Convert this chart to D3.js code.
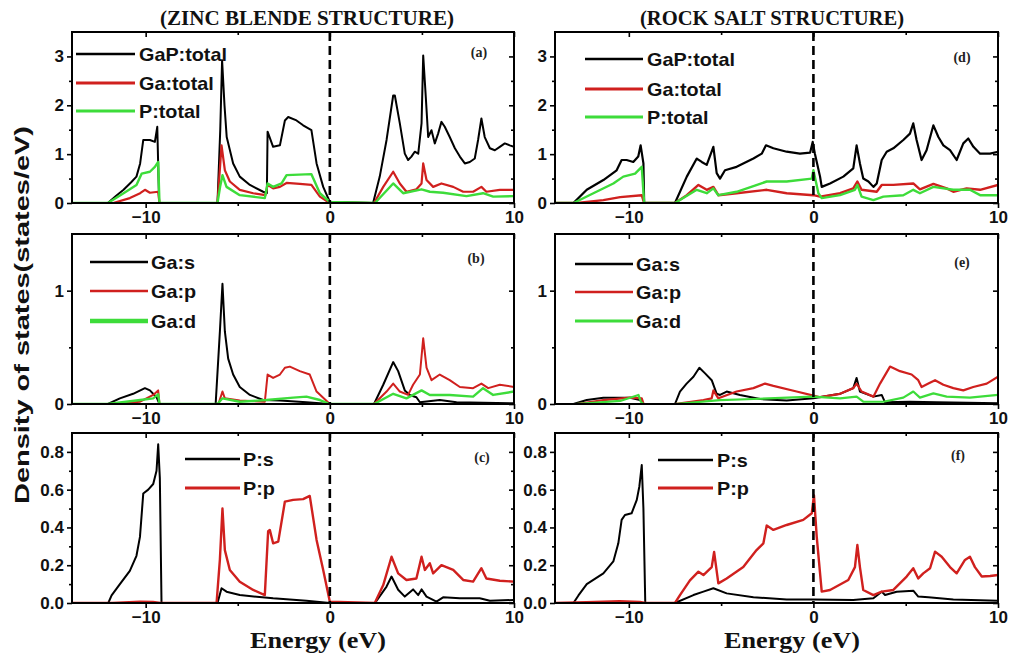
<!DOCTYPE html>
<html><head><meta charset="utf-8">
<script src="https://cdn.jsdelivr.net/npm/d3@7"></script>
<style>
body{margin:0;background:#fff;}
svg{display:block;}
.sans{font-family:"Liberation Sans","Arimo",Arial,Helvetica,sans-serif;font-weight:bold;}
.serif{font-family:"Liberation Serif","Tinos","Times New Roman",Times,serif;font-weight:bold;}
</style></head><body>
<svg id="chart" width="1011" height="657"></svg>
<script>
// ---------- DATA (energy eV, DOS states/eV) ----------
const energyDomain = [-14, 10];
const xMajorTicks = [-10, 0, 10];
const xMinorTicks = [-5, 5];
const titles = ["(ZINC BLENDE STRUCTURE)", "(ROCK SALT STRUCTURE)"];
const panelLabels = ["(a)", "(b)", "(c)", "(d)", "(e)", "(f)"];
const legendTotals = ["GaP:total", "Ga:total", "P:total"];
const legendGa = ["Ga:s", "Ga:p", "Ga:d"];
const legendP = ["P:s", "P:p"];
const yTicksTotal = [0, 1, 2, 3];
const yTicksGa = [0, 1];
const yTicksP = [0, 0.2, 0.4, 0.6, 0.8];

// Zinc blende: totals (a)
const zbGaPTotal = [[-14,0],[-12.05,0],[-11.6,0.15],[-11.2,0.27],[-10.8,0.42],[-10.5,0.54],[-10.3,0.81],[-10.13,1.29],[-9.77,1.29],[-9.5,1.25],[-9.37,1.56],[-9.27,0],
[-6.1,0],[-5.95,1.5],[-5.85,2.92],[-5.72,2.0],[-5.6,1.35],[-5.25,0.81],[-4.89,0.54],[-4.34,0.37],[-3.62,0.23],[-3.42,0.2],[-3.38,1.46],[-3.08,1.15],[-2.71,1.18],[-2.44,1.69],[-2.26,1.76],[-1.81,1.69],[-1.45,1.59],[-1.0,1.49],[-0.72,0.81],[-0.36,0.33],[0,0.02],
[2.35,0],[2.71,0.54],[3.08,1.29],[3.44,2.2],[3.53,2.2],[3.8,1.63],[4.07,1.01],[4.25,0.88],[4.43,0.95],[4.61,1.05],[4.8,1.01],[4.98,1.63],[5.07,3.02],[5.21,2.17],[5.34,1.35],[5.52,1.49],[5.7,1.22],[5.88,1.42],[6.06,1.66],[6.24,1.56],[6.51,1.35],[6.79,1.12],[7.06,0.95],[7.33,0.81],[7.6,0.84],[7.87,0.91],[8.05,1.29],[8.23,1.73],[8.41,1.35],[8.69,1.12],[8.96,1.08],[9.23,1.15],[9.5,1.22],[9.77,1.18],[10,1.15]];
const zbGaTotal = [[-14,0],[-11.76,0],[-10.86,0.1],[-10.3,0.2],[-10.04,0.27],[-9.77,0.21],[-9.32,0.23],[-9.25,0],
[-6.1,0],[-5.95,0.8],[-5.88,1.18],[-5.7,0.67],[-5.43,0.44],[-4.89,0.27],[-4.16,0.2],[-3.5,0.16],[-3.38,0.37],[-3.08,0.3],[-2.71,0.33],[-2.35,0.41],[-1.63,0.39],[-1.0,0.37],[-0.54,0.13],[-0.05,0.01],
[2.4,0],[2.9,0.33],[3.44,0.64],[3.8,0.4],[4.16,0.23],[4.7,0.28],[4.98,0.4],[5.07,0.81],[5.25,0.47],[5.61,0.33],[6.06,0.4],[6.7,0.33],[7.24,0.23],[7.78,0.23],[8.23,0.33],[8.5,0.23],[9.23,0.27],[10,0.27]];
const zbPTotal = [[-14,0],[-12.05,0],[-11.2,0.2],[-10.5,0.37],[-10.22,0.6],[-9.77,0.64],[-9.5,0.74],[-9.32,0.84],[-9.25,0],
[-6.1,0],[-5.95,0.35],[-5.83,0.57],[-5.61,0.33],[-4.89,0.16],[-3.53,0.1],[-3.38,0.4],[-3.08,0.33],[-2.62,0.4],[-2.35,0.57],[-1.0,0.59],[-0.54,0.2],[0,0.02],
[2.45,0],[3.44,0.4],[3.98,0.2],[4.98,0.28],[5.43,0.23],[6.15,0.21],[7.42,0.14],[8.32,0.2],[8.87,0.13],[10,0.14]];

// Zinc blende: Ga orbitals (b)
const zbGaS = [[-14,0],[-12.05,0],[-11.4,0.05],[-10.68,0.09],[-10.04,0.14],[-9.77,0.12],[-9.41,0.06],[-9.25,0],
[-6.2,0],[-5.97,0.64],[-5.83,1.06],[-5.7,0.64],[-5.52,0.4],[-5.25,0.26],[-4.89,0.15],[-4.34,0.08],[-3.62,0.035],[-2.71,0.03],[-1.27,0.015],[0,0],
[2.4,0],[2.9,0.17],[3.44,0.37],[3.71,0.29],[4.07,0.12],[4.34,0.08],[4.7,0.06],[4.89,0.015],[5.97,0.035],[6.88,0.015],[10,0.006]];
const zbGaP = [[-14,0],[-11.76,0],[-10.3,0.02],[-9.59,0.08],[-9.32,0.12],[-9.25,0],
[-6.05,0],[-5.83,0.11],[-5.7,0.05],[-4.89,0.03],[-3.53,0.02],[-3.38,0.26],[-3.08,0.23],[-2.71,0.26],[-2.44,0.32],[-2.17,0.33],[-1.63,0.29],[-1.09,0.26],[-0.72,0.11],[0,0],
[2.4,0],[3.08,0.11],[3.44,0.18],[3.8,0.11],[4.25,0.08],[4.52,0.17],[4.89,0.26],[5.07,0.58],[5.25,0.32],[5.52,0.21],[5.97,0.26],[6.51,0.21],[7.06,0.15],[7.78,0.14],[8.23,0.18],[8.6,0.14],[9.23,0.17],[10,0.15]];
const zbGaD = [[-14,0],[-12.05,0],[-10.3,0.035],[-9.59,0.05],[-9.32,0.085],[-9.25,0],
[-6.1,0],[-5.83,0.05],[-4.89,0.02],[-3.44,0.035],[-1.99,0.056],[-1.27,0.065],[-0.54,0.035],[0,0],
[2.4,0],[3.44,0.09],[4.16,0.05],[4.98,0.12],[5.43,0.08],[6.51,0.08],[7.78,0.065],[8.32,0.14],[8.87,0.08],[10,0.11]];

// Zinc blende: P orbitals (c)
const zbPS = [[-14,0],[-12.03,0],[-11.85,0.04],[-11.4,0.1],[-10.86,0.17],[-10.5,0.25],[-10.31,0.35],[-10.13,0.58],[-9.86,0.6],[-9.59,0.63],[-9.41,0.7],[-9.32,0.84],[-9.23,0.66],[-9.14,0],
[-6.1,0],[-5.88,0.078],[-5.61,0.06],[-4.89,0.042],[-3.08,0.025],[-1.27,0.012],[0,0],
[2.45,0],[3.08,0.087],[3.35,0.14],[3.71,0.07],[4.07,0.034],[4.52,0.072],[4.8,0.042],[4.98,0.072],[5.25,0.034],[5.79,0.007],[6.15,0.03],[7.06,0.025],[8.14,0.025],[8.69,0.012],[10,0.016]];
const zbPP = [[-14,0],[-11.8,0],[-10.3,0.007],[-9.6,0.005],[-9.2,0],
[-6.15,0],[-5.97,0.23],[-5.83,0.5],[-5.7,0.28],[-5.43,0.175],[-4.89,0.113],[-4.16,0.069],[-3.53,0.042],[-3.35,0.38],[-3.26,0.387],[-3.08,0.316],[-2.8,0.325],[-2.44,0.537],[-1.99,0.546],[-1.45,0.55],[-1.09,0.567],[-0.72,0.334],[-0.36,0.175],[0,0.007],
[2.44,0],[2.9,0.095],[3.35,0.245],[3.71,0.157],[4.16,0.122],[4.7,0.13],[4.98,0.245],[5.16,0.175],[5.43,0.21],[5.61,0.157],[6.06,0.2],[6.7,0.175],[7.24,0.122],[7.78,0.113],[8.23,0.184],[8.5,0.13],[9.23,0.118],[10,0.113]];

// Rock salt: totals (d)
const rsGaPTotal = [[-14,0],[-13.0,0],[-12.28,0.27],[-11.38,0.47],[-10.66,0.67],[-10.39,0.88],[-10.12,0.88],[-9.76,0.84],[-9.49,0.95],[-9.36,1.18],[-9.21,0.81],[-9.17,0],
[-7.5,0],[-6.86,0.54],[-6.32,0.91],[-6.05,0.84],[-5.78,0.78],[-5.42,1.15],[-5.24,0.61],[-5.06,0.5],[-4.79,0.67],[-4.16,0.74],[-3.25,0.91],[-2.8,1.01],[-2.57,1.18],[-2.17,1.12],[-1.45,1.05],[-0.73,1.01],[-0.18,1.03],[-0.04,1.25],[0.08,1.01],[0.36,0.54],[0.45,0.33],[0.9,0.4],[1.62,0.54],[2.16,0.71],[2.34,1.18],[2.52,0.81],[2.7,0.5],[2.98,0.44],[3.25,0.33],[3.43,0.4],[3.7,0.88],[3.97,1.05],[4.33,1.12],[4.87,1.29],[5.23,1.42],[5.41,1.63],[5.59,1.29],[5.86,0.88],[6.13,1.08],[6.5,1.59],[6.77,1.35],[7.04,1.18],[7.4,1.08],[7.76,0.88],[8.12,1.22],[8.39,1.32],[8.67,1.15],[9.03,1.01],[9.57,1.01],[10,1.05]];
const rsGaTotal = [[-14,0],[-12.8,0],[-11.38,0.06],[-10.47,0.12],[-9.3,0.16],[-9.17,0],
[-7.5,0],[-6.86,0.16],[-6.23,0.37],[-5.78,0.27],[-5.42,0.33],[-5.15,0.16],[-4.16,0.2],[-2.53,0.27],[-1.45,0.2],[0,0.16],[0.36,0.13],[1.44,0.2],[2.16,0.3],[2.38,0.44],[2.61,0.27],[3.43,0.23],[3.7,0.37],[4.33,0.37],[5.41,0.4],[5.77,0.28],[6.5,0.39],[7.22,0.3],[7.58,0.23],[8.3,0.3],[9.03,0.27],[10,0.37]];
const rsPTotal = [[-14,0],[-13.0,0],[-11.92,0.2],[-10.84,0.4],[-10.3,0.54],[-9.66,0.6],[-9.3,0.74],[-9.17,0],
[-7.5,0],[-6.32,0.27],[-5.78,0.2],[-5.42,0.3],[-5.15,0.16],[-4.16,0.23],[-2.53,0.44],[-1.45,0.44],[-0.09,0.5],[0,0.67],[0.27,0.2],[0.45,0.1],[1.44,0.16],[2.25,0.27],[2.38,0.37],[2.61,0.13],[3.25,0.06],[3.79,0.13],[4.87,0.16],[5.41,0.27],[5.77,0.2],[6.5,0.33],[7.58,0.27],[8.48,0.27],[9.03,0.16],[10,0.16]];

// Rock salt: Ga orbitals (e)
const rsGaS = [[-14,0],[-13.0,0],[-12.28,0.035],[-11.38,0.056],[-9.93,0.056],[-9.39,0.035],[-9.2,0],
[-7.5,0],[-7.23,0.11],[-6.87,0.18],[-6.5,0.24],[-6.18,0.32],[-5.87,0.27],[-5.51,0.21],[-5.24,0.09],[-5.06,0.08],[-4.7,0.11],[-3.98,0.08],[-2.89,0.044],[-1.45,0.03],[0,0.05],[1.44,0.09],[2.16,0.14],[2.34,0.23],[2.52,0.11],[3.25,0.065],[3.7,0.08],[3.88,0.015],[5.23,0.02],[6.68,0.015],[10,0.006]];
const rsGaP = [[-14,0],[-12.8,0],[-11.38,0.035],[-9.93,0.056],[-9.3,0.05],[-9.2,0],
[-7.5,0],[-5.96,0.035],[-5.51,0.05],[-5.42,0.12],[-5.15,0.05],[-4.16,0.11],[-3.25,0.14],[-2.62,0.18],[-2.17,0.16],[-0.91,0.11],[0,0.074],[0.36,0.06],[1.44,0.09],[2.16,0.14],[2.34,0.18],[2.61,0.11],[3.25,0.065],[3.61,0.18],[4.15,0.33],[4.69,0.29],[5.32,0.26],[5.68,0.21],[5.86,0.15],[6.23,0.18],[6.59,0.21],[7.04,0.17],[7.58,0.14],[8.12,0.12],[8.66,0.15],[9.39,0.18],[10,0.24]];
const rsGaD = [[-14,0],[-12.9,0],[-10.47,0.027],[-9.48,0.08],[-9.35,0.02],[-9.2,0],
[-7.5,0],[-5.06,0.035],[-3.25,0.044],[0,0.065],[1.44,0.05],[2.34,0.065],[2.7,0.02],[3.79,0.02],[4.87,0.056],[5.41,0.11],[5.77,0.056],[6.5,0.094],[7.22,0.065],[8.48,0.056],[10,0.08]];

// Rock salt: P orbitals (f)
const rsPS = [[-14,0],[-13.0,0],[-12.73,0.04],[-12.28,0.1],[-11.38,0.157],[-10.84,0.22],[-10.57,0.316],[-10.39,0.44],[-10.21,0.466],[-9.85,0.475],[-9.57,0.546],[-9.43,0.617],[-9.3,0.73],[-9.21,0.5],[-9.11,0],
[-7.5,0],[-6.5,0.042],[-5.96,0.06],[-5.42,0.078],[-4.7,0.051],[-3.25,0.03],[-1.45,0.019],[0,0.019],[2.16,0.016],[3.25,0.025],[3.7,0.06],[3.88,0.042],[4.51,0.06],[5.41,0.065],[5.68,0.034],[6.23,0.03],[7.58,0.019],[10,0.012]];
const rsPP = [[-14,0],[-12.3,0.004],[-10.5,0.01],[-9.4,0.005],[-9.1,0],
[-7.5,0],[-7.23,0.042],[-6.69,0.12],[-6.23,0.166],[-5.96,0.148],[-5.51,0.19],[-5.38,0.27],[-5.15,0.104],[-4.7,0.13],[-3.8,0.19],[-3.08,0.28],[-2.71,0.316],[-2.53,0.41],[-2.17,0.387],[-1.45,0.413],[-0.55,0.44],[-0.09,0.475],[0.03,0.57],[0.18,0.35],[0.45,0.06],[0.9,0.069],[1.89,0.122],[2.25,0.19],[2.38,0.307],[2.52,0.19],[2.7,0.069],[3.25,0.042],[3.7,0.06],[4.33,0.069],[5.05,0.14],[5.41,0.184],[5.68,0.13],[5.95,0.157],[6.32,0.184],[6.59,0.272],[6.95,0.245],[7.4,0.19],[7.76,0.157],[8.21,0.228],[8.48,0.245],[8.75,0.19],[9.12,0.14],[9.57,0.143],[10,0.148]];

// ---------- DRAWING ----------
const BLACK = "#000000", RED = "#d0201e", GREEN = "#3ddc3a";
const svg = d3.select("#chart");

const cols = [{x0: 72, w: 442}, {x0: 555, w: 443}];
const rows = [{y0: 32, h: 171, dom: [0, 3.5], major: yTicksTotal, minor: [0.5, 1.5, 2.5], fmt: d3.format("d")},
              {y0: 234, h: 170, dom: [0, 1.5], major: yTicksGa, minor: [0.5], fmt: d3.format("d")},
              {y0: 433, h: 170, dom: [0, 0.9], major: yTicksP, minor: [0.1, 0.3, 0.5, 0.7], fmt: d3.format(".1f")}];

const panels = [
  {c: 0, r: 0, label: panelLabels[0], lab: [479, 57], series: [[zbGaPTotal, BLACK, 2], [zbGaTotal, RED, 2.2], [zbPTotal, GREEN, 2.4]],
   legend: {names: legendTotals, x1: 76, x2: 135, tx: 139, ys: [54, 83, 111], colors: [BLACK, RED, GREEN], widths: [2.5, 3, 3]}},
  {c: 0, r: 1, label: panelLabels[1], lab: [476, 263], series: [[zbGaS, BLACK, 2], [zbGaP, RED, 2], [zbGaD, GREEN, 2.4]],
   legend: {names: legendGa, x1: 90, x2: 148, tx: 151, ys: [262, 291, 321], colors: [BLACK, RED, GREEN], widths: [2.5, 2.5, 4.5]}},
  {c: 0, r: 2, label: panelLabels[2], lab: [482, 462], series: [[zbPS, BLACK, 2], [zbPP, RED, 2.4]],
   legend: {names: legendP, x1: 185, x2: 240, tx: 243, ys: [459, 488], colors: [BLACK, RED], widths: [2.5, 3]}},
  {c: 1, r: 0, label: panelLabels[3], lab: [962, 62], series: [[rsGaPTotal, BLACK, 2.2], [rsGaTotal, RED, 2.4], [rsPTotal, GREEN, 2.4]],
   legend: {names: legendTotals, x1: 585, x2: 643, tx: 647, ys: [59, 89, 117], colors: [BLACK, RED, GREEN], widths: [2.5, 3, 3]}},
  {c: 1, r: 1, label: panelLabels[4], lab: [962, 267], series: [[rsGaS, BLACK, 2], [rsGaP, RED, 2.2], [rsGaD, GREEN, 2.2]],
   legend: {names: legendGa, x1: 575, x2: 633, tx: 636, ys: [264, 292, 321], colors: [BLACK, RED, GREEN], widths: [2.5, 2.5, 3]}},
  {c: 1, r: 2, label: panelLabels[5], lab: [958, 460], series: [[rsPS, BLACK, 2], [rsPP, RED, 2.4]],
   legend: {names: legendP, x1: 658, x2: 713, tx: 717, ys: [460, 488], colors: [BLACK, RED], widths: [2.5, 3]}}
];

function styleAxis(g) {
  g.select(".domain").remove();
  g.selectAll(".tick line").attr("stroke", "#000").attr("stroke-width", 1.6);
  g.selectAll(".tick text").attr("class", "sans").attr("font-family", null)
    .style("font-size", "17px").attr("fill", "#111");
}

panels.forEach((p, i) => {
  const col = cols[p.c], row = rows[p.r];
  const x = d3.scaleLinear().domain(energyDomain).range([col.x0, col.x0 + col.w]);
  const y = d3.scaleLinear().domain(row.dom).range([row.y0 + row.h, row.y0]);
  const g = svg.append("g");

  const clipId = "clip" + i;
  svg.append("clipPath").attr("id", clipId).append("rect")
    .attr("x", col.x0).attr("y", row.y0 - 2).attr("width", col.w).attr("height", row.h + 2);

  const line = d3.line().x(d => x(d[0])).y(d => y(d[1]));
  const cg = g.append("g").attr("clip-path", `url(#${clipId})`);
  p.series.forEach(([data, color, w]) => {
    cg.append("path").datum(data).attr("d", line).attr("fill", "none")
      .attr("stroke", color).attr("stroke-width", w).attr("stroke-linejoin", "round");
  });

  g.append("line").attr("x1", x(0)).attr("x2", x(0)).attr("y1", row.y0).attr("y2", row.y0 + row.h)
    .attr("stroke", "#000").attr("stroke-width", 2.6).attr("stroke-dasharray", "9,5");

  const bottom = g.append("g").attr("transform", `translate(0,${row.y0 + row.h})`)
    .call(d3.axisBottom(x).tickValues(xMajorTicks).tickSize(5).tickPadding(3).tickFormat(d3.format("d")));
  styleAxis(bottom);
  const bottomMinor = g.append("g").attr("transform", `translate(0,${row.y0 + row.h})`)
    .call(d3.axisBottom(x).tickValues(xMinorTicks).tickSize(3).tickFormat(""));
  styleAxis(bottomMinor);
  const top = g.append("g").attr("transform", `translate(0,${row.y0})`)
    .call(d3.axisTop(x).tickValues(xMajorTicks).tickSize(-5).tickFormat(""));
  styleAxis(top);
  const topMinor = g.append("g").attr("transform", `translate(0,${row.y0})`)
    .call(d3.axisTop(x).tickValues(xMinorTicks).tickSize(-3).tickFormat(""));
  styleAxis(topMinor);

  const left = g.append("g").attr("transform", `translate(${col.x0},0)`)
    .call(d3.axisLeft(y).tickValues(row.major).tickSize(5).tickPadding(3).tickFormat(row.fmt));
  styleAxis(left);
  const leftMinor = g.append("g").attr("transform", `translate(${col.x0},0)`)
    .call(d3.axisLeft(y).tickValues(row.minor).tickSize(3).tickFormat(""));
  styleAxis(leftMinor);
  const right = g.append("g").attr("transform", `translate(${col.x0 + col.w},0)`)
    .call(d3.axisRight(y).tickValues(row.major).tickSize(-5).tickFormat(""));
  styleAxis(right);
  const rightMinor = g.append("g").attr("transform", `translate(${col.x0 + col.w},0)`)
    .call(d3.axisRight(y).tickValues(row.minor).tickSize(-3).tickFormat(""));
  styleAxis(rightMinor);

  g.append("rect").attr("x", col.x0).attr("y", row.y0).attr("width", col.w).attr("height", row.h)
    .attr("fill", "none").attr("stroke", "#000").attr("stroke-width", 2);

  const L = p.legend;
  L.names.forEach((name, k) => {
    g.append("line").attr("x1", L.x1).attr("x2", L.x2).attr("y1", L.ys[k]).attr("y2", L.ys[k])
      .attr("stroke", L.colors[k]).attr("stroke-width", L.widths[k]);
    g.append("text").attr("class", "sans").attr("transform", `translate(${L.tx},${L.ys[k] + 6.5}) scale(1.1,1)`)
      .style("font-size", "18px").attr("fill", "#111").text(name);
  });

  g.append("text").attr("class", "serif").attr("x", p.lab[0]).attr("y", p.lab[1]).attr("text-anchor", "middle")
    .style("font-size", "14px").attr("fill", "#222").text(p.label);
});

[[307, titles[0], 294], [772, titles[1], 264]].forEach(([cx, t, len]) => {
  svg.append("text").attr("class", "serif").attr("x", cx).attr("y", 25).attr("text-anchor", "middle")
    .style("font-size", "20px").attr("fill", "#111")
    .attr("textLength", len).attr("lengthAdjust", "spacingAndGlyphs").text(t);
});

[318, 792].forEach(cx => {
  svg.append("text").attr("class", "serif").attr("x", cx).attr("y", 648).attr("text-anchor", "middle")
    .style("font-size", "24px").attr("fill", "#111")
    .attr("textLength", 136).attr("lengthAdjust", "spacingAndGlyphs").text("Energy (eV)");
});

svg.append("text").attr("class", "sans").attr("transform", "translate(29,315) rotate(-90)").attr("text-anchor", "middle")
  .style("font-size", "21px").attr("fill", "#111")
  .attr("textLength", 378).attr("lengthAdjust", "spacingAndGlyphs").text("Density of states(states/eV)");
</script>
</body></html>
